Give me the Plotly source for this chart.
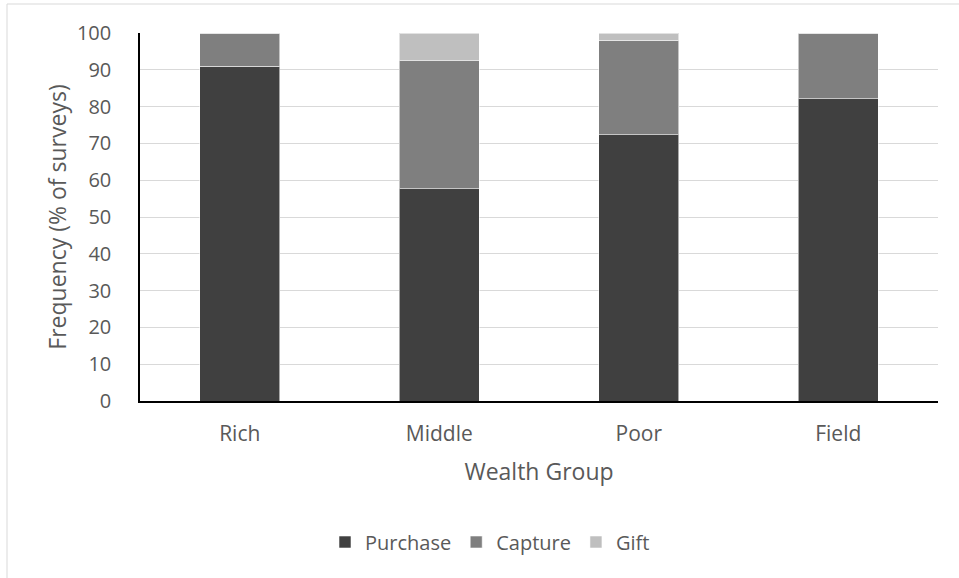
import plotly.graph_objects as go

# Source of animals, by wealth group (% of surveys)
groups = ["Rich", "Middle", "Poor", "Field"]
purchase = [90.9, 57.7, 72.3, 82.2]
capture = [9.1, 34.8, 25.7, 17.8]
gift = [0.0, 7.5, 2.0, 0.0]

series = [
    ("Purchase", purchase, "#404040"),
    ("Capture", capture, "#7f7f7f"),
    ("Gift", gift, "#bfbfbf"),
]

W, H = 959, 578
ML, MR, MT, MB = 140, 21, 33, 177
PW, PH = W - ML - MR, H - MT - MB

fig = go.Figure()
for name, vals, col in series:
    fig.add_trace(go.Bar(
        name=name, x=groups, y=vals,
        marker=dict(color=col, line=dict(color="rgba(255,255,255,0.55)", width=1)),
    ))

font = "Open Sans, Noto Sans, sans-serif"
txt = "#595959"

def px_x(p):
    return (p - ML) / PW

def px_y(p):
    return (H - MB - p) / PH

fig.update_layout(
    width=W, height=H,
    margin=dict(l=ML, r=MR, t=MT, b=MB),
    barmode="stack", bargap=0.6,
    plot_bgcolor="white", paper_bgcolor="white",
    font=dict(family=font, size=20, color=txt),
    showlegend=True,
    legend=dict(
        orientation="h", x=px_x(490), xanchor="center",
        y=px_y(542), yanchor="middle",
        font=dict(size=20, color=txt), traceorder="normal",
        itemwidth=30,
    ),
    xaxis=dict(
        showline=True, linecolor="black", linewidth=1.5,
        showgrid=False, ticks="", ticklabelstandoff=13,
        tickfont=dict(size=21),
        title=dict(text="Wealth Group", font=dict(size=23, color=txt), standoff=18),
    ),
    yaxis=dict(
        range=[0, 100], dtick=10,
        showline=True, linecolor="black", linewidth=1.5,
        gridcolor="#d9d9d9", gridwidth=1,
        ticks="", ticklabelstandoff=23, zeroline=False,
        tickfont=dict(size=20),
        title=dict(text="Frequency (% of surveys)", font=dict(size=23, color=txt), standoff=4),
    ),
    shapes=[dict(
        type="rect", xref="paper", yref="paper",
        x0=px_x(7), x1=px_x(1010), y0=px_y(4), y1=px_y(620),
        line=dict(color="#d9d9d9", width=1), layer="below",
    )],
)

fig.write_html("out.html")
